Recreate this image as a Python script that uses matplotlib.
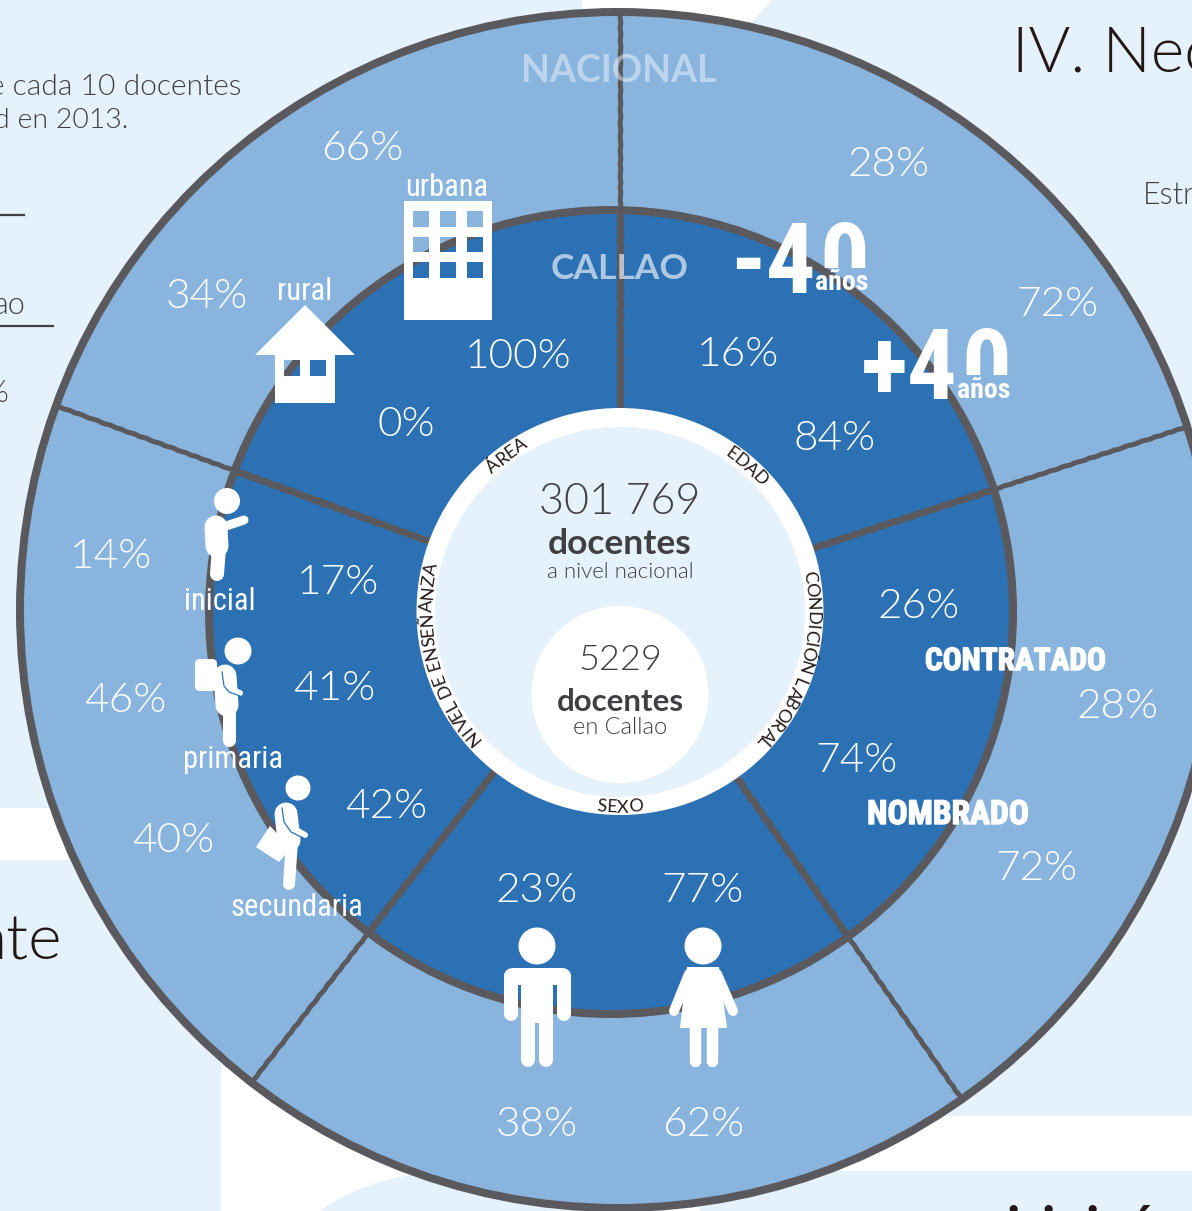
import numpy as np
import matplotlib
matplotlib.use('Agg')
import matplotlib.pyplot as plt
from matplotlib.patches import Circle, Rectangle, Ellipse, Polygon, PathPatch, FancyBboxPatch
from matplotlib.path import Path
from matplotlib.font_manager import FontProperties
from matplotlib.textpath import TextToPath
import matplotlib.patheffects as pe

# values
area_nacional = [66, 34]
area_callao = [100, 0]
edad_nacional = [28, 72]
edad_callao = [16, 84]
condicion_nacional = [28, 72]
condicion_callao = [26, 74]
sexo_nacional = [38, 62]
sexo_callao = [23, 77]
nivel_nacional = [14, 46, 40]
nivel_callao = [17, 41, 42]
sector_angles = [0, 72, 145, 218, 290]

total_nacional = '301 769'
total_callao = '5229'

# where each group of labels sits
nac_xy = [(362, 145), (207, 293), (889, 161), (1057, 302), (1118, 704), (1036, 865),
          (537, 1121), (703, 1121), (111, 553), (125, 698), (173, 838)]
cal_xy = [(518, 354), (406, 422), (738, 351), (835, 435), (919, 604), (856, 757),
          (537, 888), (703, 888), (338, 579), (334, 685), (386, 803)]

BG = '#E6F2FB'
OUTER = '#88B4DE'
MID = '#2C71B4'
STROKE = '#5A595E'
DARK = '#403F41'
INK = '#231815'
LIGHT = 'Lato'
NARROW = 'Roboto Condensed'
PX = 0.72  # points per pixel at dpi 100

fig = plt.figure(figsize=(11.92, 12.11), dpi=100, facecolor=BG)
ax = fig.add_axes([0, 0, 1, 1])
ax.set_xlim(0, 1192)
ax.set_ylim(1211, 0)
ax.axis('off')

# page background pieces
ax.add_patch(Rectangle((0, 808), 80, 52, fc='white', ec='none', zorder=0))
ax.add_patch(Rectangle((221, 860), 971, 351, fc='white', ec='none', zorder=0))
ax.add_patch(Rectangle((860, 860), 332, 256, fc=BG, ec='none', zorder=0))
ax.add_patch(Rectangle((700, 1171), 492, 40, fc=BG, ec='none', zorder=0))
ax.add_patch(Ellipse((450, 1290), 350, 236, fc=BG, ec='none', zorder=0))
ax.add_patch(Polygon([(582, 0), (771, 0), (745, 30), (582, 30)], fc='white', ec='none', zorder=0))

# rings
ax.add_patch(Circle((618, 610), 598, fc=OUTER, ec=STROKE, lw=8 * PX, zorder=1))
ax.add_patch(Circle((611, 612), 402, fc=MID, ec=STROKE, lw=8 * PX, zorder=2))


def hit_ring(ux, uy, cx, cy, r):
    # distance from the hub along (ux, uy) to a ring that is a bit off centre
    dx, dy = 620 - cx, 611 - cy
    b = dx * ux + dy * uy
    return -b + np.sqrt(b * b - (dx * dx + dy * dy - r * r))


def radial(angle):
    a = np.radians(angle)
    ux, uy = np.sin(a), -np.cos(a)
    r_mid = hit_ring(ux, uy, 611, 612, 402)
    r_out = hit_ring(ux, uy, 618, 610, 598)
    for r0, r1, width, z in [(200, r_mid, 7, 3), (r_mid, r_out, 5, 1.5)]:
        line, = ax.plot([620 + r0 * ux, 620 + r1 * ux], [611 + r0 * uy, 611 + r1 * uy],
                        color=STROKE, lw=width * PX, zorder=z, solid_capstyle='butt')
        line.set_sketch_params(0.3, 14, 2)


for ang in sector_angles:
    radial(ang)

ax.add_patch(Circle((620, 611.5), 203.5, fc='white', ec='none', zorder=4))
ax.add_patch(Circle((620, 612), 185, fc=BG, ec='none', zorder=5))
ax.add_patch(Circle((620, 694.5), 88.5, fc='white', ec='none', zorder=6))

# percent labels
nac_vals = area_nacional + edad_nacional + condicion_nacional + sexo_nacional + nivel_nacional
cal_vals = area_callao + edad_callao + condicion_callao + sexo_callao + nivel_callao
for v, (x, y) in zip(nac_vals + cal_vals, nac_xy + cal_xy):
    ax.text(x, y + 3, f'{v}%', color='white', fontsize=30.5, family=LIGHT, weight=300,
            ha='center', va='center', zorder=9)

ax.text(619, 71, 'NACIONAL', color='white', alpha=0.45, fontsize=27, family=LIGHT, weight='bold',
        ha='center', va='center', zorder=9)
ax.text(620, 269, 'CALLAO', color='white', alpha=0.62, fontsize=25.5, family=LIGHT, weight='bold',
        ha='center', va='center', zorder=9)

# centre block
ax.text(620, 503, total_nacional, color=DARK, fontsize=31, family=LIGHT, weight=300,
        ha='center', va='center', zorder=9)
ax.text(620, 544, 'docentes', color=DARK, fontsize=25.5, family=LIGHT, weight='bold',
        ha='center', va='center', zorder=9)
ax.text(620, 572, 'a nivel nacional', color=DARK, fontsize=16, family=LIGHT, weight=300,
        ha='center', va='center', zorder=9)
ax.text(620, 660, total_callao, color=DARK, fontsize=26, family=LIGHT, weight=300,
        ha='center', va='center', zorder=9)
ax.text(620, 702, 'docentes', color=DARK, fontsize=22.5, family=LIGHT, weight='bold',
        ha='center', va='center', zorder=9)
ax.text(620, 728, 'en Callao', color=DARK, fontsize=17, family=LIGHT, weight=300,
        ha='center', va='center', zorder=9)


# text bent along the white ring
def curved(txt, mid_angle, radius, size, clockwise=True):
    fp = FontProperties(family=LIGHT, size=size)
    t2p = TextToPath()
    widths = [t2p.get_text_width_height_descent(c, fp, False)[0] / PX for c in txt]
    total = sum(widths)
    pos = -total / 2
    sign = 1 if clockwise else -1
    for c, w in zip(txt, widths):
        ang = mid_angle + sign * np.degrees((pos + w / 2) / radius)
        a = np.radians(ang)
        x = 620 + radius * np.sin(a)
        y = 611.5 - radius * np.cos(a)
        rot = -ang if clockwise else 180 - ang
        ax.text(x, y, c, fontproperties=fp, color=INK, rotation=rot, rotation_mode='anchor',
                ha='center', va='center', zorder=9)
        pos += w


curved('ÁREA', 324, 193, 13)
curved('EDAD', 41, 193, 13)
curved('CONDICIÓN LABORAL', 106, 192, 13)
curved('NIVEL DE ENSEÑANZA', 256, 193, 13)
curved('SEXO', 180, 196, 13, clockwise=False)

# icons
W = dict(fc='white', ec='none', zorder=8)


def limb(xs, ys, w):
    ax.plot(xs, ys, color='white', lw=w * PX, solid_capstyle='round', solid_joinstyle='round', zorder=8)


def with_holes(outline, holes):
    verts, codes = [], []
    for poly, rev in [(outline, False)] + [(h, True) for h in holes]:
        p = poly[::-1] if rev else poly
        verts += p + [p[0]]
        codes += [Path.MOVETO] + [Path.LINETO] * (len(p) - 1) + [Path.CLOSEPOLY]
    ax.add_patch(PathPatch(Path(verts, codes), **W))


def box(x0, y0, x1, y1):
    return [(x0, y0), (x1, y0), (x1, y1), (x0, y1)]


# house
with_holes([(305, 305), (355, 355), (335, 355), (335, 403), (275, 403), (275, 355), (255, 355)],
           [box(284, 360, 300, 376), box(310, 360, 326, 376)])
# building
with_holes(box(404, 201, 492, 320),
           [box(x, y, x + 15.5, y + 15.5) for x in (413, 440, 467) for y in (211, 236.5, 262)])

# man
ax.add_patch(Circle((537, 946), 18.5, **W))
limb([512, 562], [976, 976], 17)
limb([510.5, 510.5], [976, 1014], 14)
limb([563.5, 563.5], [976, 1014], 14)
ax.add_patch(Rectangle((521, 968), 32, 55, **W))
limb([528, 528], [1015, 1060], 14)
limb([546, 546], [1015, 1060], 14)
# woman
ax.add_patch(Circle((703, 946), 18.5, **W))
ax.add_patch(Polygon([(687, 967), (719, 967), (727, 1028), (680, 1028)], **W))
limb([689, 674], [974, 1011], 10)
limb([717, 733], [974, 1011], 10)
limb([695, 695], [1025, 1061], 11.5)
limb([712, 712], [1025, 1061], 11.5)

# students
ax.add_patch(Circle((227, 501), 13, **W))
limb([216, 217], [527, 546], 23)
limb([219, 217], [548, 574], 14)
limb([226, 244], [526, 520], 9)
ax.add_patch(Circle((238, 651), 13.5, **W))
ax.add_patch(FancyBboxPatch((200, 664), 12, 22, boxstyle='round,pad=5', **W))
limb([225, 227], [676, 705], 23)
limb([229, 229], [705, 740], 13)
limb([232, 240], [690, 693], 6)
ax.plot([222, 224, 229, 240], [672, 686, 692, 696], color=MID, lw=0.9, zorder=8.5)
ax.add_patch(Circle((298, 788), 12.5, **W))
ax.add_patch(Polygon([(256, 847), (270, 826), (291, 848), (279, 862)], **W))
limb([286, 289], [814, 840], 23)
limb([292, 289], [842, 884], 12)
limb([296, 305], [830, 835], 6)
ax.plot([282, 284, 291, 305], [808, 822, 832, 839], color=MID, lw=0.9, zorder=8.5)

# icon captions
for lab, x, y in [('rural', 305, 291), ('urbana', 447, 187), ('inicial', 220, 602),
                  ('primaria', 233, 759), ('secundaria', 297, 907)]:
    ax.text(x, y, lab, color='white', fontsize=22, family=NARROW, ha='center', va='center', zorder=9)
for lab, x, y, fs in [('CONTRATADO', 1015, 661, 22.5), ('NOMBRADO', 948, 815, 24)]:
    ax.text(x, y, lab, color='white', fontsize=fs, family=NARROW, weight='bold', ha='center', va='center',
            zorder=9, path_effects=[pe.withStroke(linewidth=1, foreground='white')])


# age marks, the zero is cut where the word starts
def age(prefix, right, base, clip_y, word_y):
    ax.text(right, base, prefix, color='white', fontsize=71, family=NARROW, weight='bold',
            ha='right', va='baseline', zorder=9)
    z = ax.text(right + 3, base, '0', color='white', fontsize=71, family=NARROW, weight='bold',
                ha='left', va='baseline', zorder=9, clip_on=True)
    z.set_clip_path(Rectangle((right, clip_y - 70), 60, 70, transform=ax.transData))
    ax.text(right + 26, word_y, 'años', color='white', fontsize=20, family=NARROW, weight='bold',
            ha='center', va='center', zorder=9)


age('-4', 816, 293, 268, 283)
age('+4', 958, 399, 375, 390)

# cropped page text around the wheel
ax.text(241, 87, 'e cada 10 docentes', color=DARK, fontsize=21.6, family=LIGHT, weight=300,
        ha='right', va='center', zorder=0.5)
ax.text(128, 120, 'd en 2013.', color=DARK, fontsize=20.5, family=LIGHT, weight=300,
        ha='right', va='center', zorder=0.5)
ax.plot([0, 24], [215, 215], color=DARK, lw=1.6, zorder=0.5)
ax.text(26, 306, 'ao', color=DARK, fontsize=22, family=LIGHT, weight=300,
        ha='right', va='center', zorder=0.5)
ax.plot([0, 53], [326, 326], color=DARK, lw=1.6, zorder=0.5)
ax.text(8, 393, '%', color=DARK, fontsize=22, family=LIGHT, weight=300,
        ha='right', va='center', zorder=0.5)
ax.text(1012, 71, 'IV. Nec', color=INK, fontsize=46, family=LIGHT, weight=300,
        ha='left', va='baseline', zorder=0.5)
ax.text(1143, 196, 'Estr', color=DARK, fontsize=22, family=LIGHT, weight=300,
        ha='left', va='center', zorder=0.5)
ax.text(62, 960, 'nte', color=INK, fontsize=46, family=LIGHT, weight=300,
        ha='right', va='baseline', zorder=0.5)
for c, x in [('i', 1013), ('i', 1048), ('i', 1092), ('ó', 1140)]:
    ax.text(x, 1252, c, color=INK, fontsize=46, family=LIGHT, ha='center', va='baseline', zorder=0.5)

fig.savefig('out.png', dpi=100, facecolor=BG)
